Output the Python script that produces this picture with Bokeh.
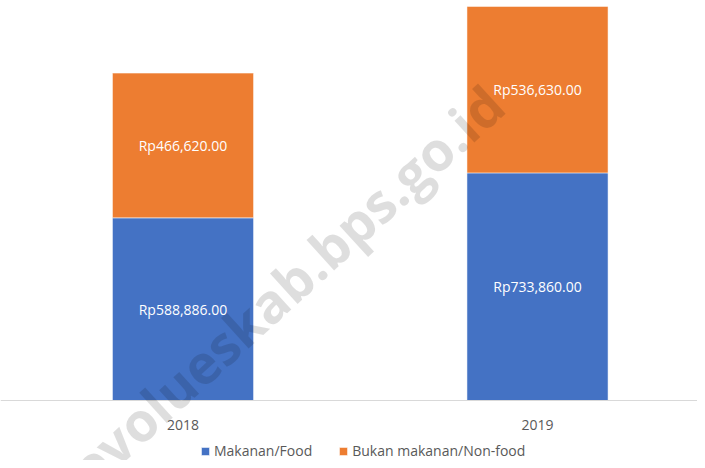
import numpy as np
from bokeh.plotting import figure
from bokeh.models import Range1d, FixedTicker, ColumnDataSource, Label
from bokeh.core.properties import value
from bokeh.embed import file_html
from bokeh.resources import INLINE

categories = ["2018", "2019"]
food = [588886.00, 733860.00]
nonfood = [466620.00, 536630.00]
series_names = ["Makanan/Food", "Bukan makanan/Non-food"]
colors = ["#4472C4", "#ED7D31"]
watermark = "evolueskab.bps.go.id"

FONT = "Open Sans"
W, H = 697, 460
UNITS_PER_PX = 3224.0
AXIS_Y = 400  # pixel row of the category axis

idx = list(range(len(categories)))
src = ColumnDataSource(dict(x=idx, food=food, nonfood=nonfood))

y0 = -(H - AXIS_Y) * UNITS_PER_PX
y1 = AXIS_Y * UNITS_PER_PX
p = figure(width=W, height=H, output_backend="svg", toolbar_location=None,
           x_range=Range1d(-0.5148, 1.4513), y_range=Range1d(y0, y1),
           min_border_left=0, min_border_right=0, min_border_top=0, min_border_bottom=0)
p.outline_line_color = None
p.xgrid.visible = False
p.ygrid.visible = False
p.yaxis.visible = False
p.background_fill_color = "white"
p.border_fill_color = "white"

p.vbar_stack(["food", "nonfood"], x="x", width=0.398, source=src, color=colors,
             line_color="white", line_width=0.5, legend_label=series_names)

food_a = np.array(food)
non_a = np.array(nonfood)
lab_x = idx + idx
lab_y = list(food_a / 2) + list(food_a + non_a / 2)
lab_t = ["Rp{:,.2f}".format(v) for v in food] + ["Rp{:,.2f}".format(v) for v in nonfood]
p.text(x=lab_x, y=lab_y, text=lab_t, text_align="center", text_baseline="middle",
       text_font=value(FONT), text_font_size="14px", text_color="white")

xa = p.xaxis[0]
xa.fixed_location = 0
xa.ticker = FixedTicker(ticks=idx)
xa.major_label_overrides = {i: c for i, c in zip(idx, categories)}
xa.axis_line_color = "#D9D9D9"
xa.axis_line_width = 1
xa.major_tick_line_color = None
xa.minor_tick_line_color = None
xa.major_label_standoff = 13
xa.major_label_text_font = FONT
xa.major_label_text_font_size = "14px"
xa.major_label_text_color = "#595959"

lg = p.legend[0]
lg.orientation = "horizontal"
lg.location = (200, 0)
lg.padding = 0
lg.margin = 0
lg.spacing = 26
lg.label_standoff = 4
lg.glyph_width = 10
lg.glyph_height = 10
lg.label_height = 10
lg.border_line_color = None
lg.background_fill_alpha = 0
lg.label_text_font = FONT
lg.label_text_font_size = "14px"
lg.label_text_color = "#595959"

wm = Label(x=494, y=H - 95, x_units="screen", y_units="screen", text=watermark,
           angle=0.74, text_align="right", text_baseline="middle",
           text_font=FONT, text_font_style="bold", text_font_size="54px",
           text_color="black", text_alpha=0.13)
p.add_layout(wm)

open("out.html", "w").write(file_html(p, INLINE))
